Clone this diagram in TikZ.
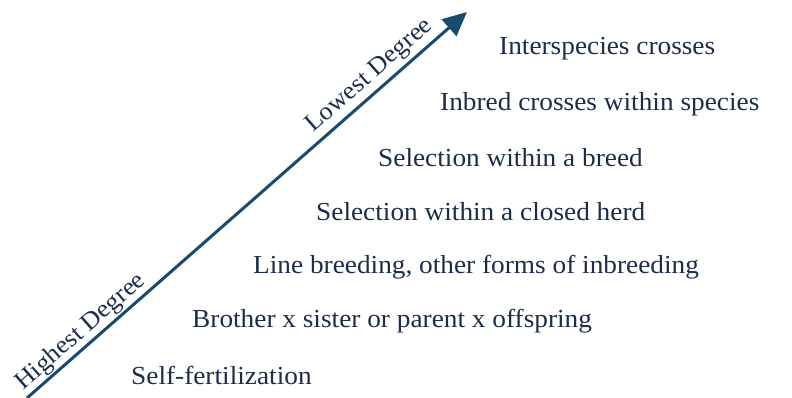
\documentclass[tikz,border=0pt]{standalone}
\usepackage{fontspec}
\setmainfont{Liberation Serif}[FakeStretch=1.05]
\usetikzlibrary{arrows.meta}
\definecolor{txt}{HTML}{1C2D4A}
\definecolor{arr}{HTML}{1A4A6E}
\begin{document}
\begin{tikzpicture}[x=1pt,y=-1pt,
  item/.style={anchor=west,text=txt,font=\fontsize{26}{29}\selectfont,inner sep=0pt},
  deg/.style={text=txt,font=\fontsize{25}{28}\selectfont,rotate=41.3,inner sep=0pt}]
\useasboundingbox (0,0) rectangle (792,398);
\coordinate (s) at (27,398);
\coordinate (e) at (467,12);
\draw[arr,line width=3pt,-{Triangle[length=24pt,width=22pt]}] (s) -- (e);
\node[deg] (hi) at (81,332) {Highest Degree};
\node[deg] (lo) at (370,76) {Lowest Degree};
\node[item] (t1) at (499,49) {Interspecies crosses};
\node[item] (t2) at (440,104) {Inbred crosses within species};
\node[item] (t3) at (378,158) {Selection within a breed};
\node[item] (t4) at (316,212) {Selection within a closed herd};
\node[item] (t5) at (253,267) {Line breeding, other forms of inbreeding};
\node[item] (t6) at (192,321) {Brother x sister or parent x offspring};
\node[item] (t7) at (131,375) {Self-fertilization};
\end{tikzpicture}
\end{document}
